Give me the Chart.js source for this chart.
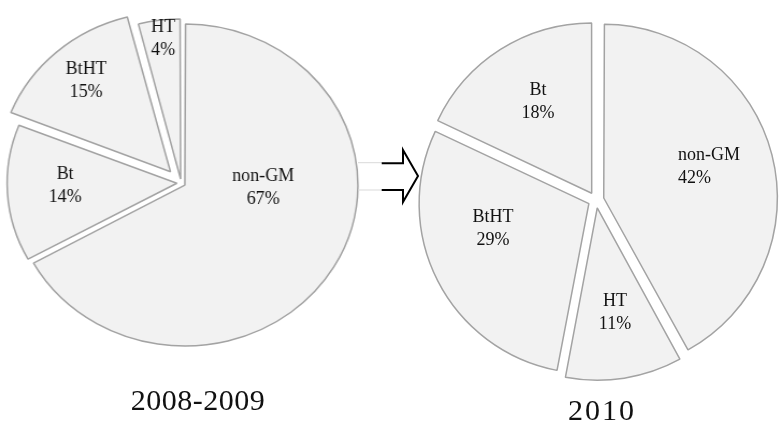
<!DOCTYPE html>
<html><head><meta charset="utf-8">
<script src="https://cdn.jsdelivr.net/npm/chart.js@4.4.1/dist/chart.umd.min.js"></script>
<style>
html,body{margin:0;padding:0;background:#fff;width:780px;height:422px;overflow:hidden;position:relative}
#wl{position:absolute;left:0;top:0;transform:scaleX(1.075);transform-origin:0 0}
#cr{position:absolute;left:406px;top:0}
#arrow{position:absolute;left:0;top:0}
.ttl{position:absolute;font:30px "Liberation Serif",serif;line-height:30px;color:#111;white-space:nowrap;transform:translateX(-50%)}
</style></head><body>
<div id="wl"><canvas id="cl" width="337" height="366"></canvas></div>
<canvas id="cr" width="380" height="400"></canvas>
<svg id="arrow" width="780" height="422">
  <path d="M358 162.7 H382 M358 190 H382" stroke="#d9d9d9" stroke-width="1" fill="none"/>
  <path d="M381.7 163.3 H403 V150 L418 176 L403 202 V190 H381.7" stroke="#000" stroke-width="2" fill="none" stroke-linejoin="miter"/>
</svg>
<div class="ttl" id="t1" style="left:198px;top:385px;letter-spacing:0.5px"></div>
<div class="ttl" id="t2" style="left:602px;top:395px;letter-spacing:2px"></div>
<script>
// ---- data ----
const categories2008 = ['non-GM', 'Bt', 'BtHT', 'HT'];
const shares2008 = [67, 14, 15, 4];
const categories2010 = ['non-GM', 'HT', 'BtHT', 'Bt'];
const shares2010 = [42, 11, 29, 18];
const periodTitles = ['2008-2009', '2010'];

document.getElementById('t1').textContent = periodTitles[0];
document.getElementById('t2').textContent = periodTitles[1];

const sliceLabels = {
  id: 'sliceLabels',
  afterDatasetsDraw(chart, args, opts) {
    const ctx = chart.ctx;
    const meta = chart.getDatasetMeta(0);
    const ds = chart.data.datasets[0];
    const sx = opts.stretch || 1;
    meta.data.forEach((arc, i) => {
      const p = opts.pos[i];
      ctx.save();
      ctx.translate(arc.x + p[0] / sx, arc.y + p[1]);
      ctx.scale(1 / sx, 1);
      ctx.font = '18px "Liberation Serif", serif';
      ctx.fillStyle = '#111';
      ctx.textAlign = p[2] || 'center';
      ctx.textBaseline = 'middle';
      ctx.fillText(chart.data.labels[i], 0, -11.5);
      ctx.fillText(ds.data[i] + '%', 0, 11.5);
      ctx.restore();
    });
  }
};

// Chart.js v4 translates an arc by offset/4, so the explode distances are scaled by 4
function makePie(id, labels, values, radius, explode, pos, stretch) {
  return new Chart(document.getElementById(id), {
    type: 'pie',
    data: {
      labels: labels,
      datasets: [{
        data: values,
        backgroundColor: '#f2f2f2',
        borderColor: '#a3a3a3',
        borderWidth: 1.5,
        offset: explode.map(d => d * 4),
        hoverOffset: 0
      }]
    },
    options: {
      responsive: false,
      animation: false,
      events: [],
      radius: radius,
      layout: { padding: 0 },
      plugins: {
        legend: { display: false },
        tooltip: { enabled: false },
        title: { display: false },
        sliceLabels: { pos: pos, stretch: stretch }
      }
    },
    plugins: [sliceLabels]
  });
}

makePie('cl', categories2008, shares2008, 157, [4, 4, 15, 4],
  [[82, 5], [-116, 3], [-95, -102], [-18, -144]], 1.075);
makePie('cr', categories2010, shares2010, 169.5, [8, 8, 8, 8],
  [[82, -33.5, 'left'], [19, 113], [-103, 29], [-58, -98]], 1);
</script>
</body></html>
